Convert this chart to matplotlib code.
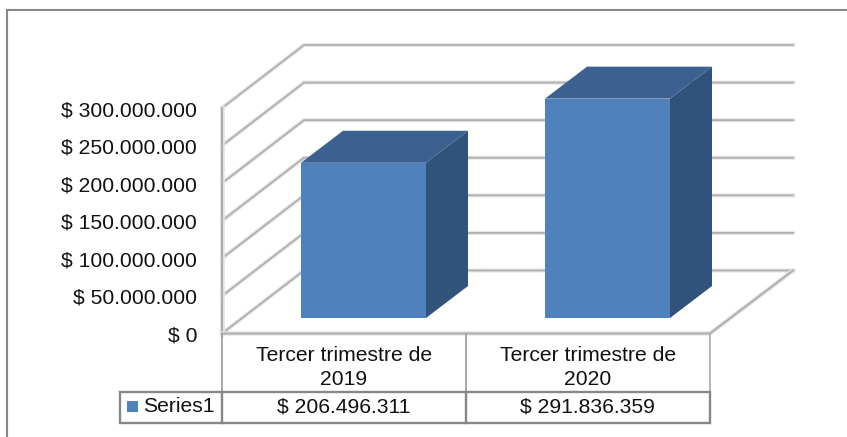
# -*- coding: utf-8 -*-
import matplotlib
matplotlib.use("Agg")
import matplotlib.pyplot as plt
from matplotlib.patches import Polygon, Rectangle

plt.rcParams["font.family"] = ["Liberation Sans", "DejaVu Sans"]

categories = ["Tercer trimestre de\n2019", "Tercer trimestre de\n2020"]
series_name = "Series1"
values = [206496311, 291836359]
value_labels = ["$ 206.496.311", "$ 291.836.359"]
ticks = [0, 50e6, 100e6, 150e6, 200e6, 250e6, 300e6]
tick_labels = ["$ 0", "$ 50.000.000", "$ 100.000.000", "$ 150.000.000",
               "$ 200.000.000", "$ 250.000.000", "$ 300.000.000"]

W, H = 847, 437
Y0 = 333.5              # pixel row of value 0 on the front plane
PX_PER_VAL = 225.5 / 300e6
GRID = "#b0b0b0"
HALO = "#e6e6e6"
EDGE = "#878787"
TXT = "#111111"
FS = 15.2
FRONT, TOP, SIDE = "#4f81bd", "#3c6190", "#31537b"

fig = plt.figure(figsize=(W / 100, H / 100), dpi=100)
ax = fig.add_axes([0, 0, 1, 1])
ax.set_xlim(0, W)
# y axis is in value units, x axis in pixels, so bars scale off the data
ax.set_ylim((Y0 - H) / PX_PER_VAL, Y0 / PX_PER_VAL)
ax.axis("off")


def dy(px):
    return px / PX_PER_VAL


def rowy(px):
    return (Y0 - px) / PX_PER_VAL


# outer frame
ax.plot([7, 7], [rowy(H), rowy(10)], color=EDGE, lw=1.5)
ax.plot([7, W], [rowy(10), rowy(10)], color=EDGE, lw=1.5)

# walls and floor
xl, xr = 222, 710
ox, oy = 82, 63
for t in ticks:
    ax.plot([xl, xl + ox, 793], [t, t + dy(oy), t + dy(oy)], color=HALO, lw=3,
            solid_joinstyle="miter")
    ax.plot([xl, xl + ox, 793], [t, t + dy(oy), t + dy(oy)], color=GRID, lw=1.3,
            solid_joinstyle="miter")
ax.plot([xl, xl], [0, ticks[-1]], color=HALO, lw=3.5)
ax.plot([xl, xl], [0, ticks[-1]], color=GRID, lw=1.6)
ax.plot([xl, xr, 793], [0, 0, dy(oy)], color=HALO, lw=3.2, solid_joinstyle="miter")
ax.plot([xl, xr, 793], [0, 0, dy(oy)], color=GRID, lw=1.5, solid_joinstyle="miter")

# bars
bar_left = [301, 545]
bar_w = 125
base = dy(15.5)
bx, by = 42, dy(32)
for x, v in zip(bar_left, values):
    top = base + v
    ax.add_patch(Polygon([(x + bar_w, base), (x + bar_w + bx, base + by),
                          (x + bar_w + bx, top + by), (x + bar_w, top)], fc=SIDE, ec="none", zorder=3))
    ax.add_patch(Polygon([(x, top), (x + bar_w, top), (x + bar_w + bx, top + by),
                          (x + bx, top + by)], fc=TOP, ec="none", zorder=3))
    ax.add_patch(Rectangle((x, base), bar_w, v, fc=FRONT, ec="none", zorder=4))

# y tick labels
for t, s in zip(ticks, tick_labels):
    ax.text(197, t - dy(2.5), s, ha="right", va="center", fontsize=FS, color=TXT)

# data table
cols = [222, 465.5, 710]
row_top, row_bot = rowy(391.5), rowy(423)
for x in cols:
    ax.plot([x, x], [0, row_top], color=GRID if x == 710 else "#a0a0a0", lw=1.3)
for x0, x1, cat, lab in zip(cols[:-1], cols[1:], categories, value_labels):
    ax.text((x0 + x1) / 2, rowy(367.5), cat, ha="center", va="center", fontsize=FS,
            color=TXT, linespacing=1.38)
    ax.text((x0 + x1) / 2, rowy(407), lab, ha="center", va="center", fontsize=FS, color=TXT)
ax.add_patch(Rectangle((120, row_bot), 590, row_top - row_bot, fc="none", ec=EDGE, lw=1.7, zorder=5))
for x in cols[:-1]:
    ax.plot([x, x], [row_bot, row_top], color=EDGE, lw=1.7, zorder=5)
ax.add_patch(Rectangle((127, rowy(412)), 11, dy(11), fc=FRONT, ec="none"))
ax.text(143, rowy(407), series_name, ha="left", va="center", fontsize=FS, color=TXT)

fig.savefig("out.png", dpi=100)
